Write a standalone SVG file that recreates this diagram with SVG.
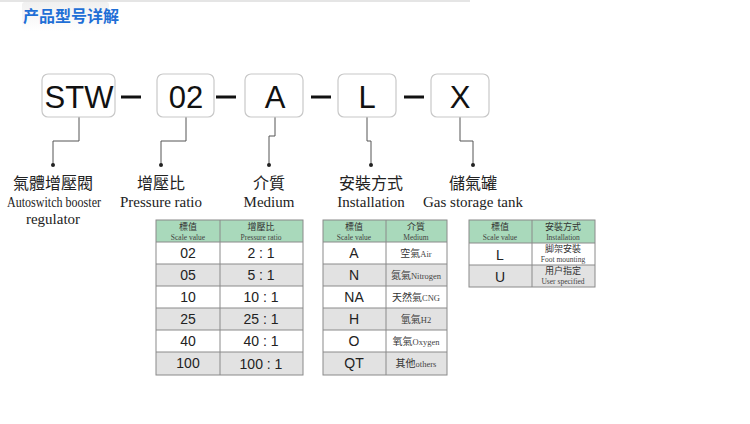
<svg xmlns="http://www.w3.org/2000/svg" width="750" height="424" viewBox="0 0 750 424">
<style>
.box{fill:#fff;stroke:#c8c8c8;stroke-width:1.2}
.code{font-family:"Liberation Sans",sans-serif;font-size:31px;fill:#111;text-anchor:middle}
.dash{stroke:#111;stroke-width:3}
.conn{fill:none;stroke:#555;stroke-width:1}
.cn{font-family:"Noto Sans CJK TC",sans-serif;font-size:16px;fill:#222;text-anchor:middle}
.en{font-family:"Liberation Serif",serif;font-size:15px;fill:#222;text-anchor:middle}
.hd{fill:#a9d9bb}
.g{fill:#e2e2e2}
.w{fill:#fff}
.tb{fill:none;stroke:#8a8a8a;stroke-width:1}
.sm{font-family:"Noto Sans CJK TC",sans-serif;font-size:9px;fill:#333;text-anchor:middle}
.ss{font-family:"Liberation Serif",serif;font-size:7.5px;fill:#444;text-anchor:middle}
.tv{font-family:"Liberation Sans",sans-serif;font-size:14px;fill:#222;text-anchor:middle}
.tc{font-family:"Noto Sans CJK TC",sans-serif;font-size:10px;fill:#333;text-anchor:middle}
.te{font-family:"Liberation Serif",serif;font-size:8.5px;fill:#444}
</style>
<defs><linearGradient id="tg" x1="0" y1="0" x2="0" y2="1"><stop offset="0" stop-color="#f0f0f0"/><stop offset="1" stop-color="#fff"/></linearGradient></defs>
<rect width="750" height="424" fill="#fff"/>
<line x1="0" y1="1" x2="470" y2="1" stroke="#ddd" stroke-width="1.5"/>
<g id="title"><rect x="22" y="2" width="87" height="29" rx="3" fill="url(#tg)"/>
<text x="23" y="22" font-family="Noto Sans CJK SC,sans-serif" font-size="16" font-weight="bold" fill="#1f6fd6">产品型号详解</text></g>
<g id="connectors">
<line class="dash" x1="121" y1="97" x2="141" y2="97"/>
<line class="dash" x1="216" y1="97" x2="236" y2="97"/>
<line class="dash" x1="311" y1="97" x2="331" y2="97"/>
<line class="dash" x1="404" y1="97" x2="424" y2="97"/>
<polyline class="conn" points="79,117 79,141 53,141 53,165"/>
<polyline class="conn" points="186,117 186,141 161,141 161,165"/>
<polyline class="conn" points="275,117 275,136 269,136 269,165"/>
<polyline class="conn" points="367,117 367,141 371,141 371,165"/>
<polyline class="conn" points="460,117 460,141 473,141 473,165"/>
<g fill="#222"><circle cx="53" cy="165" r="2"/><circle cx="161" cy="165" r="2"/><circle cx="269" cy="165" r="2"/><circle cx="371" cy="165" r="2"/><circle cx="473" cy="165" r="2"/></g>
</g>
<g id="n-stw"><rect class="box" x="42" y="74" width="73" height="43" rx="6"/><text class="code" x="79" y="108">STW</text>
<text class="cn" x="53" y="189">氣體增壓閥</text><text class="en" x="54" y="207" textLength="94" lengthAdjust="spacingAndGlyphs">Autoswitch booster</text><text class="en" x="53" y="224">regulator</text></g>
<g id="n-02"><rect class="box" x="157" y="74" width="57" height="43" rx="6"/><text class="code" x="186" y="108">02</text>
<text class="cn" x="161" y="189">增壓比</text><text class="en" x="161" y="207">Pressure ratio</text></g>
<g id="n-a"><rect class="box" x="245" y="74" width="58" height="43" rx="6"/><text class="code" x="275" y="108">A</text>
<text class="cn" x="269" y="189">介質</text><text class="en" x="269" y="207">Medium</text></g>
<g id="n-l"><rect class="box" x="338" y="74" width="58" height="43" rx="6"/><text class="code" x="367" y="108">L</text>
<text class="cn" x="371" y="189">安裝方式</text><text class="en" x="371" y="207">Installation</text></g>
<g id="n-x"><rect class="box" x="431" y="74" width="58" height="43" rx="6"/><text class="code" x="460" y="108">X</text>
<text class="cn" x="473" y="189">儲氣罐</text><text class="en" x="473" y="207">Gas storage tank</text></g>

<g id="table-ratio">
<rect class="hd" x="156" y="220" width="147" height="22"/>
<rect class="w" x="156" y="242" width="147" height="22"/>
<rect class="g" x="156" y="264" width="147" height="22"/>
<rect class="w" x="156" y="286" width="147" height="22"/>
<rect class="g" x="156" y="308" width="147" height="22"/>
<rect class="w" x="156" y="330" width="147" height="22"/>
<rect class="g" x="156" y="352" width="147" height="23"/>
<rect class="tb" x="156" y="220" width="147" height="155"/>
<path class="tb" d="M220,220V375M156,242H303M156,264H303M156,286H303M156,308H303M156,330H303M156,352H303"/>
<text class="sm" x="188" y="230">標值</text><text class="ss" x="188" y="240">Scale value</text>
<text class="sm" x="261" y="230">增壓比</text><text class="ss" x="261" y="240">Pressure ratio</text>
<text class="tv" x="188" y="258">02</text><text class="tv" x="261" y="258">2 : 1</text>
<text class="tv" x="188" y="280">05</text><text class="tv" x="261" y="280">5 : 1</text>
<text class="tv" x="188" y="302">10</text><text class="tv" x="261" y="302">10 : 1</text>
<text class="tv" x="188" y="324">25</text><text class="tv" x="261" y="324">25 : 1</text>
<text class="tv" x="188" y="346">40</text><text class="tv" x="261" y="346">40 : 1</text>
<text class="tv" x="188" y="368">100</text><text class="tv" x="261" y="369">100 : 1</text>
</g>

<g id="table-medium">
<rect class="hd" x="323" y="220" width="124" height="22"/>
<rect class="w" x="323" y="242" width="124" height="22"/>
<rect class="g" x="323" y="264" width="124" height="22"/>
<rect class="w" x="323" y="286" width="124" height="22"/>
<rect class="g" x="323" y="308" width="124" height="22"/>
<rect class="w" x="323" y="330" width="124" height="22"/>
<rect class="g" x="323" y="352" width="124" height="23"/>
<rect class="tb" x="323" y="220" width="124" height="155"/>
<path class="tb" d="M386,220V375M323,242H447M323,264H447M323,286H447M323,308H447M323,330H447M323,352H447"/>
<text class="sm" x="354" y="230">標值</text><text class="ss" x="354" y="240">Scale value</text>
<text class="sm" x="416" y="230">介質</text><text class="ss" x="416" y="240">Medium</text>
<text class="tv" x="354" y="258">A</text><text class="tv" x="354" y="280">N</text><text class="tv" x="354" y="302">NA</text>
<text class="tv" x="354" y="324">H</text><text class="tv" x="354" y="346">O</text><text class="tv" x="354" y="368">QT</text>
<text class="tc" x="416" y="257">空氣<tspan class="te">Air</tspan></text>
<text class="tc" x="416" y="279">氮氣<tspan class="te">Nitrogen</tspan></text>
<text class="tc" x="416" y="301">天然氣<tspan class="te">CNG</tspan></text>
<text class="tc" x="416" y="323">氫氣<tspan class="te">H2</tspan></text>
<text class="tc" x="416" y="345">氧氣<tspan class="te">Oxygen</tspan></text>
<text class="tc" x="416" y="367">其他<tspan class="te">others</tspan></text>
</g>

<g id="table-install">
<rect class="hd" x="469" y="220" width="126" height="23"/>
<rect class="w" x="469" y="243" width="126" height="22"/>
<rect class="g" x="469" y="265" width="126" height="22"/>
<rect class="tb" x="469" y="220" width="126" height="67"/>
<path class="tb" d="M532,220V287M469,243H595M469,265H595"/>
<text class="sm" x="500" y="230">標值</text><text class="ss" x="500" y="240">Scale value</text>
<text class="sm" x="563" y="230">安裝方式</text><text class="ss" x="563" y="240">Installation</text>
<text class="tv" x="500" y="260">L</text><text class="tv" x="500" y="282">U</text>
<text class="sm" x="563" y="252">脚架安裝</text><text class="ss" x="563" y="262">Foot mounting</text>
<text class="sm" x="563" y="274">用户指定</text><text class="ss" x="563" y="284">User specified</text>
</g>
</svg>
